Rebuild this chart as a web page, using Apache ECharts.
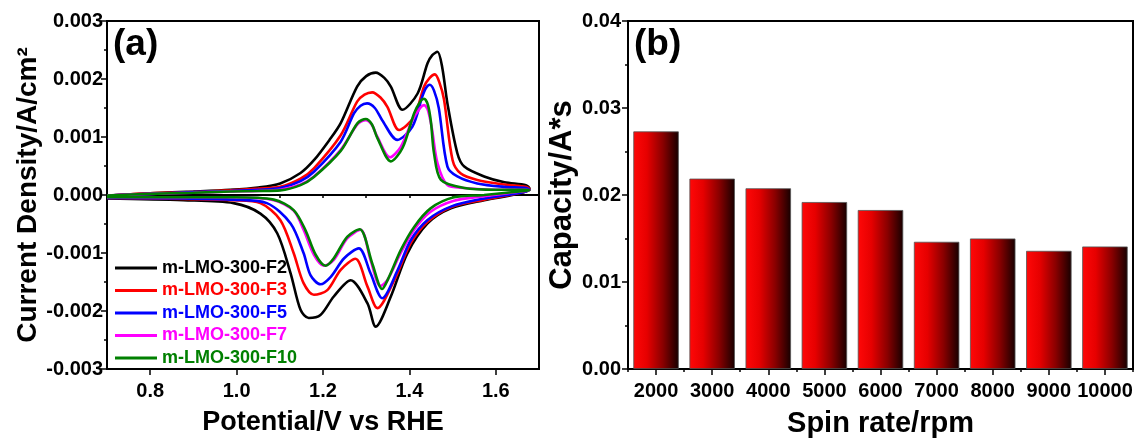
<!DOCTYPE html>
<html>
<head>
<meta charset="utf-8">
<script src="https://cdn.jsdelivr.net/npm/echarts@6/dist/echarts.min.js"></script>
<style>
html,body{margin:0;padding:0;background:#fff;}
#c{width:1141px;height:438px;}
</style>
</head>
<body>
<div id="c"></div>
<script>
// ---------- DATA ----------
// CV loops: [potential (V vs RHE), current density (A/cm2)], anodic scan then cathodic scan
const cvF2 = [
  [0.70,-0.00001],[0.80,0.00003],[0.90,0.00006],[0.985,0.00009],[1.05,0.00013],[1.101,0.00020],[1.148,0.00038],[1.179,0.00060],[1.215,0.00095],[1.241,0.00124],[1.279,0.00187],[1.300,0.00205],[1.322,0.00211],[1.342,0.00202],[1.357,0.00187],[1.384,0.00147],[1.419,0.00175],[1.442,0.00227],[1.453,0.00241],[1.465,0.00247],[1.476,0.00220],[1.488,0.00158],[1.511,0.00072],[1.527,0.00049],[1.573,0.00032],[1.62,0.00022],[1.670,0.00017],
  [1.678,0.00011],
  [1.658,0.00003],[1.573,-0.00009],[1.496,-0.00023],[1.442,-0.00049],[1.395,-0.00101],[1.357,-0.00175],[1.322,-0.00227],[1.303,-0.00187],[1.264,-0.00147],[1.225,-0.00175],[1.194,-0.00207],[1.167,-0.00212],[1.148,-0.00198],[1.125,-0.00135],[1.094,-0.00066],[1.055,-0.00032],[0.993,-0.00014],[0.877,-0.00009],[0.70,-0.00006]
];
const cvF3 = [
  [0.70,-0.00001],[0.80,0.00003],[0.90,0.00005],[0.985,0.00008],[1.05,0.00011],[1.101,0.00014],[1.148,0.00028],[1.179,0.00046],[1.241,0.00103],[1.279,0.00161],[1.296,0.00173],[1.314,0.00177],[1.333,0.00168],[1.349,0.00152],[1.376,0.00112],[1.411,0.00135],[1.434,0.00187],[1.447,0.00202],[1.459,0.00208],[1.469,0.00195],[1.480,0.00165],[1.500,0.00060],[1.519,0.00037],[1.557,0.00026],[1.62,0.00018],[1.670,0.00014],
  [1.678,0.00010],
  [1.658,0.00004],[1.573,-0.00008],[1.496,-0.00021],[1.442,-0.00046],[1.403,-0.00083],[1.365,-0.00147],[1.326,-0.00195],[1.303,-0.00158],[1.275,-0.00110],[1.241,-0.00129],[1.210,-0.00164],[1.179,-0.00172],[1.155,-0.00152],[1.132,-0.00100],[1.101,-0.00043],[1.055,-0.00014],[0.993,-0.00009],[0.877,-0.00007],[0.70,-0.00005]
];
const cvF5 = [
  [0.70,-0.00001],[0.80,0.00002],[0.90,0.00005],[0.985,0.00007],[1.05,0.00009],[1.101,0.00012],[1.148,0.00024],[1.179,0.00040],[1.241,0.00092],[1.272,0.00141],[1.287,0.00154],[1.302,0.00158],[1.320,0.00150],[1.337,0.00129],[1.372,0.00095],[1.407,0.00118],[1.430,0.00170],[1.438,0.00184],[1.447,0.00190],[1.457,0.00180],[1.468,0.00150],[1.488,0.00049],[1.511,0.00032],[1.557,0.00020],[1.62,0.00014],[1.670,0.00012],
  [1.678,0.00009],
  [1.658,0.00004],[1.573,-0.00006],[1.496,-0.00020],[1.442,-0.00043],[1.403,-0.00078],[1.373,-0.00129],[1.337,-0.00178],[1.310,-0.00135],[1.283,-0.00092],[1.249,-0.00109],[1.218,-0.00141],[1.194,-0.00154],[1.171,-0.00138],[1.155,-0.00100],[1.125,-0.00049],[1.070,-0.00014],[0.993,-0.00008],[0.877,-0.00006],[0.70,-0.00005]
];
const cvF7 = [
  [0.70,-0.00001],[0.80,0.00002],[0.90,0.00004],[0.985,0.00006],[1.05,0.00007],[1.101,0.00009],[1.148,0.00018],[1.179,0.00032],[1.241,0.00078],[1.280,0.00122],[1.299,0.00129],[1.313,0.00121],[1.326,0.00100],[1.355,0.00065],[1.380,0.00083],[1.407,0.00129],[1.425,0.00150],[1.434,0.00155],[1.442,0.00148],[1.452,0.00115],[1.465,0.00055],[1.488,0.00017],[1.527,0.00012],[1.60,0.00009],[1.670,0.00009],
  [1.678,0.00008],
  [1.658,0.00006],[1.573,-0.00002],[1.503,-0.00010],[1.449,-0.00029],[1.411,-0.00060],[1.380,-0.00100],[1.349,-0.00147],[1.333,-0.00157],[1.310,-0.00112],[1.287,-0.00060],[1.256,-0.00075],[1.225,-0.00112],[1.202,-0.00122],[1.179,-0.00103],[1.155,-0.00060],[1.132,-0.00027],[1.086,-0.00009],[0.993,-0.00004],[0.877,-0.00004],[0.70,-0.00004]
];
const cvF10 = [
  [0.70,-0.00001],[0.80,0.00002],[0.90,0.00004],[0.985,0.00006],[1.05,0.00007],[1.101,0.00008],[1.148,0.00017],[1.179,0.00031],[1.241,0.00076],[1.280,0.00124],[1.299,0.00131],[1.313,0.00122],[1.326,0.00098],[1.357,0.00058],[1.384,0.00081],[1.411,0.00141],[1.425,0.00161],[1.434,0.00166],[1.443,0.00155],[1.450,0.00125],[1.457,0.00072],[1.473,0.00026],[1.527,0.00012],[1.60,0.00009],[1.670,0.00009],
  [1.678,0.00008],
  [1.666,0.00007],[1.573,0.00000],[1.503,-0.00004],[1.449,-0.00023],[1.411,-0.00055],[1.380,-0.00095],[1.353,-0.00141],[1.337,-0.00162],[1.314,-0.00118],[1.285,-0.00059],[1.256,-0.00072],[1.225,-0.00109],[1.206,-0.00122],[1.183,-0.00103],[1.159,-0.00060],[1.132,-0.00026],[1.086,-0.00008],[0.993,-0.00004],[0.877,-0.00004],[0.70,-0.00004]
];
const cvNames = ['m-LMO-300-F2','m-LMO-300-F3','m-LMO-300-F5','m-LMO-300-F7','m-LMO-300-F10'];
const cvColors = ['#000000','#ff0000','#0000ff','#ff00ff','#008000'];

const spinRates = ['2000','3000','4000','5000','6000','7000','8000','9000','10000'];
const capacity  = [0.02731,0.02188,0.02077,0.01919,0.01827,0.01462,0.01500,0.01358,0.01408];

// ---------- LAYOUT ----------
const W = 1141;
const FONT = "'Liberation Sans', Arial, sans-serif";
const gA = {left:107, right:W-539, top:21, bottom:69};
const gB = {left:628, right:W-1133, top:21, bottom:69};
const pxPerV = (539-107)/(1.7-0.7);
const gA2 = {left:gA.left + 0.1*pxPerV, right:gA.right + 0.1*pxPerV, top:21, bottom:69, show:false};

const lblStyle = {fontSize:20, fontWeight:'bold', color:'#000', fontFamily:FONT};
const nameStyle = (fs)=>({fontSize:fs, fontWeight:'bold', color:'#000', fontFamily:FONT});
const axLine = {show:true, lineStyle:{color:'#000', width:2}};
const gridBase = {containLabel:false, outerBoundsMode:'none'};

const chart = echarts.init(document.getElementById('c'), null, {renderer:'canvas'});

const cvSeries = [cvF2,cvF3,cvF5,cvF7,cvF10].map((d,i)=>({
  type:'line', name:cvNames[i], xAxisIndex:0, yAxisIndex:0,
  data:d, smooth:0.3, showSymbol:false, symbol:'none',
  lineStyle:{color:cvColors[i], width:2.6}, itemStyle:{color:cvColors[i]},
  z: 3+i, animation:false
}));

const option = {
  animation:false,
  backgroundColor:'#fff',
  textStyle:{fontFamily:FONT},
  title:[
    {text:'(a)', left:108, top:21, textStyle:{fontSize:37, fontWeight:'bold', color:'#000', fontFamily:FONT}},
    {text:'(b)', left:629, top:21, textStyle:{fontSize:37, fontWeight:'bold', color:'#000', fontFamily:FONT}}
  ],
  legend:{
    orient:'vertical', left:110, top:253, icon:'rect', itemWidth:42, itemHeight:3, itemGap:2.5,
    textStyle:{fontSize:18, fontWeight:'bold', fontFamily:FONT, lineHeight:20},
    data: cvNames.map((n,i)=>({name:n, textStyle:{color:cvColors[i]}}))
  },
  grid:[
    Object.assign({show:true, borderColor:'#000', borderWidth:2}, gridBase, gA),
    Object.assign({}, gridBase, gA2),
    Object.assign({show:true, borderColor:'#000', borderWidth:2}, gridBase, gB)
  ],
  xAxis:[
    {type:'value', gridIndex:0, min:0.7, max:1.7, interval:0.1, position:'bottom',
     axisLine:axLine, axisTick:{show:true, inside:false, length:3, lineStyle:{color:'#000', width:1.5}},
     axisLabel:{show:false}, splitLine:{show:false}},
    {type:'value', gridIndex:1, min:0.8, max:1.6, interval:0.2, position:'bottom',
     axisLine:{show:false}, axisTick:{show:true, inside:false, length:6, lineStyle:{color:'#000', width:1.5}},
     axisLabel:Object.assign({margin:12, formatter:v=>v.toFixed(1)}, lblStyle), splitLine:{show:false},
     name:'Potential/V vs RHE', nameLocation:'middle', nameGap:40, nameTextStyle:nameStyle(27)},
    {type:'category', gridIndex:2, data:spinRates, position:'bottom',
     axisLine:axLine, axisTick:{show:true, alignWithLabel:true, length:6, lineStyle:{color:'#000', width:1.5}},
     axisLabel:Object.assign({margin:12, interval:0}, lblStyle), splitLine:{show:false},
     name:'Spin rate/rpm', nameLocation:'middle', nameGap:40, nameTextStyle:nameStyle(29)},
    {type:'value', gridIndex:2, min:0, max:9, interval:1, position:'bottom',
     axisLine:{show:false}, axisTick:{show:true, inside:false, length:3, lineStyle:{color:'#000', width:1.5}},
     axisLabel:{show:false}, splitLine:{show:false}}
  ],
  yAxis:[
    {type:'value', gridIndex:0, min:-0.003, max:0.003, interval:0.001,
     axisLine:axLine, axisTick:{show:true, inside:false, length:6, lineStyle:{color:'#000', width:1.5}},
     minorTick:{show:true, splitNumber:2, length:3, lineStyle:{color:'#000', width:1.5}},
     axisLabel:Object.assign({margin:4, formatter:v=>v.toFixed(3)}, lblStyle), splitLine:{show:false}, minorSplitLine:{show:false},
     name:'Current Density/A/cm²', nameLocation:'middle', nameGap:61, nameTextStyle:nameStyle(28)},
    {type:'value', gridIndex:1, show:false, min:0, max:1},
    {type:'value', gridIndex:2, min:0, max:0.04, interval:0.01,
     axisLine:axLine, axisTick:{show:true, inside:false, length:6, lineStyle:{color:'#000', width:1.5}},
     minorTick:{show:true, splitNumber:2, length:3, lineStyle:{color:'#000', width:1.5}},
     axisLabel:Object.assign({margin:7, formatter:v=>v.toFixed(2)}, lblStyle), splitLine:{show:false}, minorSplitLine:{show:false},
     name:'Capacity/A*s', nameLocation:'middle', nameGap:50, nameTextStyle:nameStyle(31)}
  ],
  series: cvSeries.concat([
    {type:'bar', xAxisIndex:2, yAxisIndex:2, data:capacity, barCategoryGap:'19%',
     itemStyle:{
       color:{type:'linear', x:0, y:0, x2:1, y2:0, colorStops:[
         {offset:0, color:'#ff0808'},{offset:0.3, color:'#e60000'},{offset:0.65, color:'#8a0000'},{offset:1, color:'#160000'}]},
       borderColor:'#555', borderWidth:0.8
     }}
  ])
};
chart.setOption(option);
</script>
</body>
</html>
